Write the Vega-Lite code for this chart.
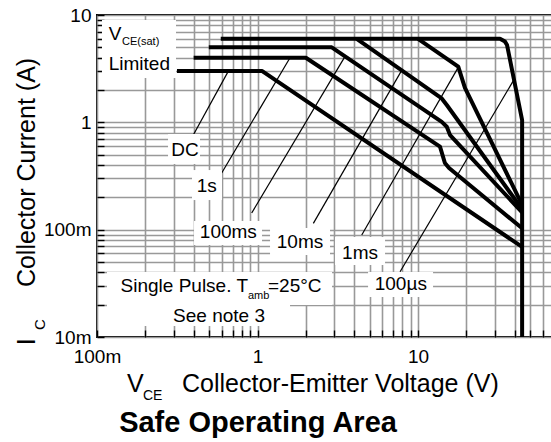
{
  "$schema": "https://vega.github.io/schema/vega-lite/v6.json",
  "width": 456,
  "height": 322,
  "autosize": {"type": "none"},
  "padding": {"left": 97, "top": 15, "right": 0, "bottom": 105},
  "background": "white",
  "config": {
    "font": "Liberation Sans",
    "view": {"stroke": "black", "strokeWidth": 2}
  },
  "datasets": {
    "curves": [
      {"curve": "DC", "ord": 1, "v": 0.315, "i": 3},
      {"curve": "DC", "ord": 2, "v": 1.07, "i": 3},
      {"curve": "DC", "ord": 3, "v": 44.5, "i": 0.069},
      {"curve": "1s", "ord": 1, "v": 0.4, "i": 4},
      {"curve": "1s", "ord": 2, "v": 2.0, "i": 4},
      {"curve": "1s", "ord": 3, "v": 13.7, "i": 0.593},
      {"curve": "1s", "ord": 4, "v": 14.7, "i": 0.418},
      {"curve": "1s", "ord": 5, "v": 15.6, "i": 0.375},
      {"curve": "1s", "ord": 6, "v": 44.5, "i": 0.103},
      {"curve": "100ms", "ord": 1, "v": 0.497, "i": 5},
      {"curve": "100ms", "ord": 2, "v": 2.9, "i": 5},
      {"curve": "100ms", "ord": 3, "v": 14.05, "i": 1.01},
      {"curve": "100ms", "ord": 4, "v": 15.1, "i": 0.91},
      {"curve": "100ms", "ord": 5, "v": 15.83, "i": 0.76},
      {"curve": "100ms", "ord": 6, "v": 44.5, "i": 0.145},
      {"curve": "10ms", "ord": 1, "v": 4.15, "i": 6},
      {"curve": "10ms", "ord": 2, "v": 14.05, "i": 1.67},
      {"curve": "10ms", "ord": 3, "v": 15.1, "i": 1.45},
      {"curve": "10ms", "ord": 4, "v": 44.5, "i": 0.155},
      {"curve": "1ms", "ord": 1, "v": 10, "i": 6},
      {"curve": "1ms", "ord": 2, "v": 17.8, "i": 3.3},
      {"curve": "1ms", "ord": 3, "v": 19.6, "i": 2.09},
      {"curve": "1ms", "ord": 4, "v": 44.5, "i": 0.17},
      {"curve": "100us", "ord": 1, "v": 0.59, "i": 6},
      {"curve": "100us", "ord": 2, "v": 32.4, "i": 6},
      {"curve": "100us", "ord": 3, "v": 34.8, "i": 5.65},
      {"curve": "100us", "ord": 4, "v": 35.85, "i": 5.25},
      {"curve": "100us", "ord": 5, "v": 44.5, "i": 1.05},
      {"curve": "100us", "ord": 6, "v": 44.5, "i": 0.01}
    ],
    "leaders": [
      {"label": "DC", "v1": 0.398, "i1": 0.761, "v2": 0.658, "i2": 3.0},
      {"label": "1s", "v1": 0.598, "i1": 0.337, "v2": 1.594, "i2": 4.0},
      {"label": "100ms", "v1": 0.92, "i1": 0.143, "v2": 3.51, "i2": 4.12},
      {"label": "10ms", "v1": 2.227, "i1": 0.1145, "v2": 7.91, "i2": 3.05},
      {"label": "1ms", "v1": 4.459, "i1": 0.0891, "v2": 17.8, "i2": 3.25},
      {"label": "100us", "v1": 7.726, "i1": 0.0405, "v2": 39.6, "i2": 2.5}
    ],
    "boxes": [
      {"name": "vcesat", "v1": 0.1074, "v2": 0.3106, "i1": 2.587, "i2": 8.98},
      {"name": "DC", "v1": 0.277, "v2": 0.4382, "i1": 0.4088, "i2": 0.7778},
      {"name": "1s", "v1": 0.3907, "v2": 0.6009, "i1": 0.1888, "i2": 0.3593},
      {"name": "100ms", "v1": 0.4022, "v2": 1.0667, "i1": 0.07186, "i2": 0.1202},
      {"name": "10ms", "v1": 1.1965, "v2": 2.829, "i1": 0.058, "i2": 0.1035},
      {"name": "1ms", "v1": 3.04, "v2": 6.229, "i1": 0.04677, "i2": 0.08531},
      {"name": "100us", "v1": 4.882, "v2": 12.4, "i1": 0.02353, "i2": 0.04024},
      {"name": "pulse", "v1": 0.1154, "v2": 2.912, "i1": 0.01983, "i2": 0.04024},
      {"name": "note", "v1": 0.1154, "v2": 1.594, "i1": 0.01264, "i2": 0.01983}
    ],
    "centerLabels": [
      {"text": "DC", "v": 0.3534, "i": 0.5518},
      {"text": "1s", "v": 0.4827, "i": 0.2549},
      {"text": "100ms", "v": 0.6579, "i": 0.09559},
      {"text": "10ms", "v": 1.84, "i": 0.0771},
      {"text": "1ms", "v": 4.351, "i": 0.0605},
      {"text": "100µs", "v": 7.81, "i": 0.0311},
      {"text": "See note 3", "v": 0.5755, "i": 0.01566}
    ],
    "rightLabels": [
      {"text": "Single Pulse. T", "v": 0.8724, "i": 0.02638}
    ],
    "leftLabels": [
      {"text": "=25°C", "v": 1.1626, "i": 0.02638},
      {"text": "V", "v": 0.1183, "i": 5.848},
      {"text": "Limited", "v": 0.1183, "i": 3.073}
    ],
    "subLabels": [
      {"text": "amb", "v": 0.8724, "i": 0.02279},
      {"text": "CE(sat)", "v": 0.1432, "i": 5.253}
    ],
    "xTitle": [
      {"text": "V", "v": 0.1537, "i": 0.003066},
      {"text": "Collector-Emitter Voltage (V)", "v": 0.3385, "i": 0.003066}
    ],
    "xTitleSub": [
      {"text": "CE", "v": 0.1934, "i": 0.002582}
    ],
    "yTitle": [
      {"text": "I", "v": 0.0411, "i": 0.0084},
      {"text": "Collector Current (A)", "v": 0.0411, "i": 0.02917}
    ],
    "yTitleSub": [
      {"text": "C", "v": 0.0474, "i": 0.0116}
    ],
    "mainTitle": [
      {"text": "Safe Operating Area", "v": 1.0072, "i": 0.0013}
    ]
  },
  "encoding": {
    "x": {
      "field": "v", "type": "quantitative",
      "scale": {"type": "log", "domain": [0.1, 69.3], "nice": false},
      "axis": {
        "values": [0.1,0.2,0.3,0.4,0.5,0.6,0.7,0.8,0.9,1,2,3,4,5,6,7,8,9,10,20,30,40,50,60],
        "labelExpr": "datum.value == 0.1 ? '100m' : datum.value == 1 ? '1' : datum.value == 10 ? '10' : ''",
        "labelOverlap": false,
        "labelFontSize": 19,
        "labelColor": "black",
        "labelPadding": 17,
        "labelFlush": false,
        "grid": true,
        "gridColor": "#999999",
        "gridWidth": 1.6,
        "gridOpacity": 1,
        "domain": false,
        "ticks": true,
        "tickSize": -7,
        "tickColor": "black",
        "tickWidth": 1.4,
        "title": null
      }
    },
    "y": {
      "field": "i", "type": "quantitative",
      "scale": {"type": "log", "domain": [0.01, 10], "nice": false},
      "axis": {
        "values": [0.01,0.02,0.03,0.04,0.05,0.06,0.07,0.08,0.09,0.1,0.2,0.3,0.4,0.5,0.6,0.7,0.8,0.9,1,2,3,4,5,6,7,8,9,10],
        "labelExpr": "datum.value == 0.01 ? '10m' : datum.value == 0.1 ? '100m' : datum.value == 1 ? '1' : datum.value == 10 ? '10' : ''",
        "labelOverlap": false,
        "labelFontSize": 19,
        "labelColor": "black",
        "labelPadding": 13,
        "labelFlush": false,
        "grid": true,
        "gridColor": "#999999",
        "gridWidth": 1.6,
        "gridOpacity": 1,
        "domain": false,
        "ticks": true,
        "tickSize": -7,
        "tickColor": "black",
        "tickWidth": 1.4,
        "title": null
      }
    }
  },
  "layer": [
    {
      "data": {"name": "leaders"},
      "mark": {"type": "rule", "color": "black", "strokeWidth": 1.2},
      "encoding": {
        "x": {"field": "v1", "type": "quantitative"},
        "x2": {"field": "v2"},
        "y": {"field": "i1", "type": "quantitative"},
        "y2": {"field": "i2"}
      }
    },
    {
      "data": {"name": "boxes"},
      "mark": {"type": "rect", "fill": "white"},
      "encoding": {
        "x": {"field": "v1", "type": "quantitative"},
        "x2": {"field": "v2"},
        "y": {"field": "i1", "type": "quantitative"},
        "y2": {"field": "i2"}
      }
    },
    {
      "data": {"name": "curves"},
      "mark": {"type": "line", "color": "black", "strokeWidth": 4, "strokeCap": "butt", "strokeJoin": "round"},
      "encoding": {
        "detail": {"field": "curve"},
        "order": {"field": "ord", "type": "quantitative"}
      }
    },
    {
      "data": {"name": "centerLabels"},
      "mark": {"type": "text", "fontSize": 19, "align": "center", "baseline": "middle", "color": "black"},
      "encoding": {"text": {"field": "text"}}
    },
    {
      "data": {"name": "rightLabels"},
      "mark": {"type": "text", "fontSize": 19, "align": "right", "baseline": "alphabetic", "color": "black"},
      "encoding": {"text": {"field": "text"}}
    },
    {
      "data": {"name": "leftLabels"},
      "mark": {"type": "text", "fontSize": 19, "align": "left", "baseline": "alphabetic", "color": "black"},
      "encoding": {"text": {"field": "text"}}
    },
    {
      "data": {"name": "subLabels"},
      "mark": {"type": "text", "fontSize": 11, "align": "left", "baseline": "alphabetic", "color": "black"},
      "encoding": {"text": {"field": "text"}}
    },
    {
      "data": {"name": "xTitle"},
      "mark": {"type": "text", "fontSize": 25, "align": "left", "baseline": "alphabetic", "color": "black"},
      "encoding": {"text": {"field": "text"}}
    },
    {
      "data": {"name": "xTitleSub"},
      "mark": {"type": "text", "fontSize": 14, "align": "left", "baseline": "alphabetic", "color": "black"},
      "encoding": {"text": {"field": "text"}}
    },
    {
      "data": {"name": "yTitle"},
      "mark": {"type": "text", "fontSize": 25, "angle": 270, "align": "left", "baseline": "alphabetic", "color": "black"},
      "encoding": {"text": {"field": "text"}}
    },
    {
      "data": {"name": "yTitleSub"},
      "mark": {"type": "text", "fontSize": 15, "angle": 270, "align": "left", "baseline": "alphabetic", "color": "black"},
      "encoding": {"text": {"field": "text"}}
    },
    {
      "data": {"name": "mainTitle"},
      "mark": {"type": "text", "fontSize": 29, "fontWeight": "bold", "align": "center", "baseline": "alphabetic", "color": "black"},
      "encoding": {"text": {"field": "text"}}
    }
  ]
}
